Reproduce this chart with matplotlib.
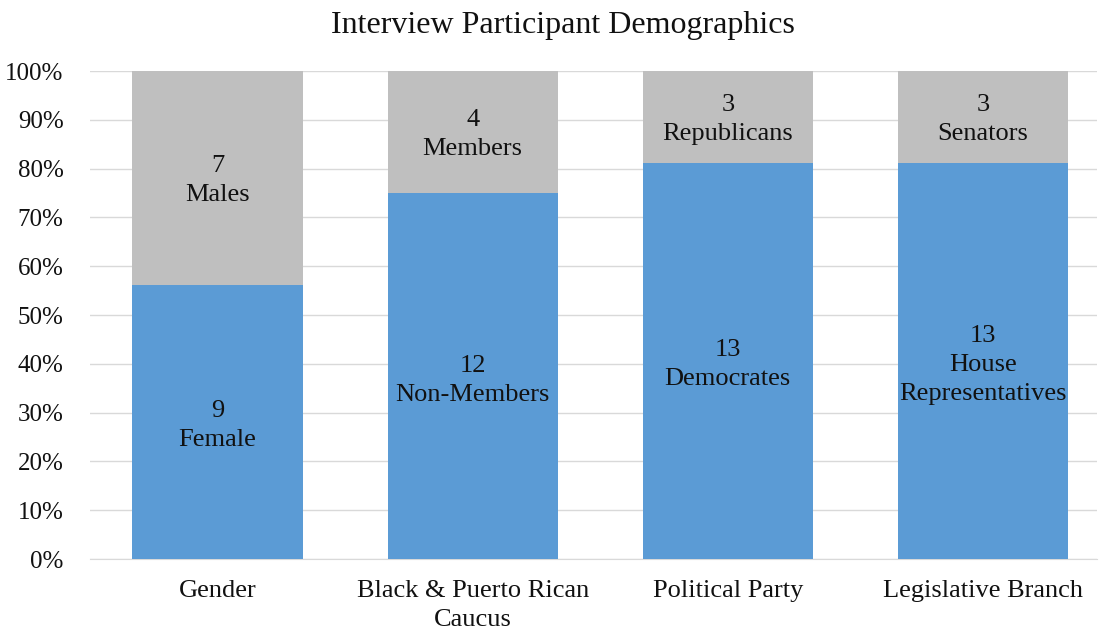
import matplotlib
matplotlib.use("Agg")
import matplotlib.pyplot as plt
import numpy as np

categories = ["Gender", "Black & Puerto Rican\nCaucus", "Political Party", "Legislative Branch"]
bottom_counts = [9, 12, 13, 13]
top_counts = [7, 4, 3, 3]
bottom_labels = ["Female", "Non-Members", "Democrates", "House\nRepresentatives"]
top_labels = ["Males", "Members", "Republicans", "Senators"]

plt.rcParams['font.family'] = ['Liberation Serif', 'DejaVu Serif']

fig = plt.figure(figsize=(11.02, 6.34), dpi=100)
ax = fig.add_axes([90/1102, 1 - 559/634, (1097-90)/1102, (559-71)/634])

totals = np.array(bottom_counts) + np.array(top_counts)
bp = np.array(bottom_counts) / totals * 100
tp = np.array(top_counts) / totals * 100
x = np.arange(len(categories))
w = 0.667
ax.bar(x, bp, width=w, color="#5B9BD5", zorder=3)
ax.bar(x, tp, width=w, bottom=bp, color="#BFBFBF", zorder=3)

for i in range(len(x)):
    ax.annotate(f"{bottom_counts[i]}\n{bottom_labels[i]}", (x[i], bp[i] / 2), xytext=(0, -3),
                textcoords="offset points", ha="center", va="center",
                fontsize=19, color="#111111", linespacing=1.42, zorder=4)
    ax.annotate(f"{top_counts[i]}\n{top_labels[i]}", (x[i], bp[i] + tp[i] / 2), xytext=(0, -2),
                textcoords="offset points", ha="center", va="center",
                fontsize=19, color="#111111", linespacing=1.42, zorder=4)

ax.set_xlim(-0.5, 3.447)
ax.set_ylim(0, 100)
ax.set_yticks(np.arange(0, 101, 10))
ax.set_yticklabels([f"{v}%" for v in range(0, 101, 10)], fontsize=18)
ax.set_xticks(x)
ax.set_xticklabels(categories, fontsize=19, linespacing=1.45)
ax.yaxis.grid(True, color="#D9D9D9", linewidth=1, zorder=0)
for s in ["top", "right", "left"]:
    ax.spines[s].set_visible(False)
ax.spines["bottom"].set_color("#D9D9D9")
ax.tick_params(axis="both", length=0, colors="#111111")
ax.tick_params(axis="x", pad=15)
ax.tick_params(axis="y", pad=19)
fig.text(563/1102, 1 - 25/634, "Interview Participant Demographics", ha="center", va="center",
         fontsize=23, color="#111111")

fig.savefig("out.png", dpi=100)
